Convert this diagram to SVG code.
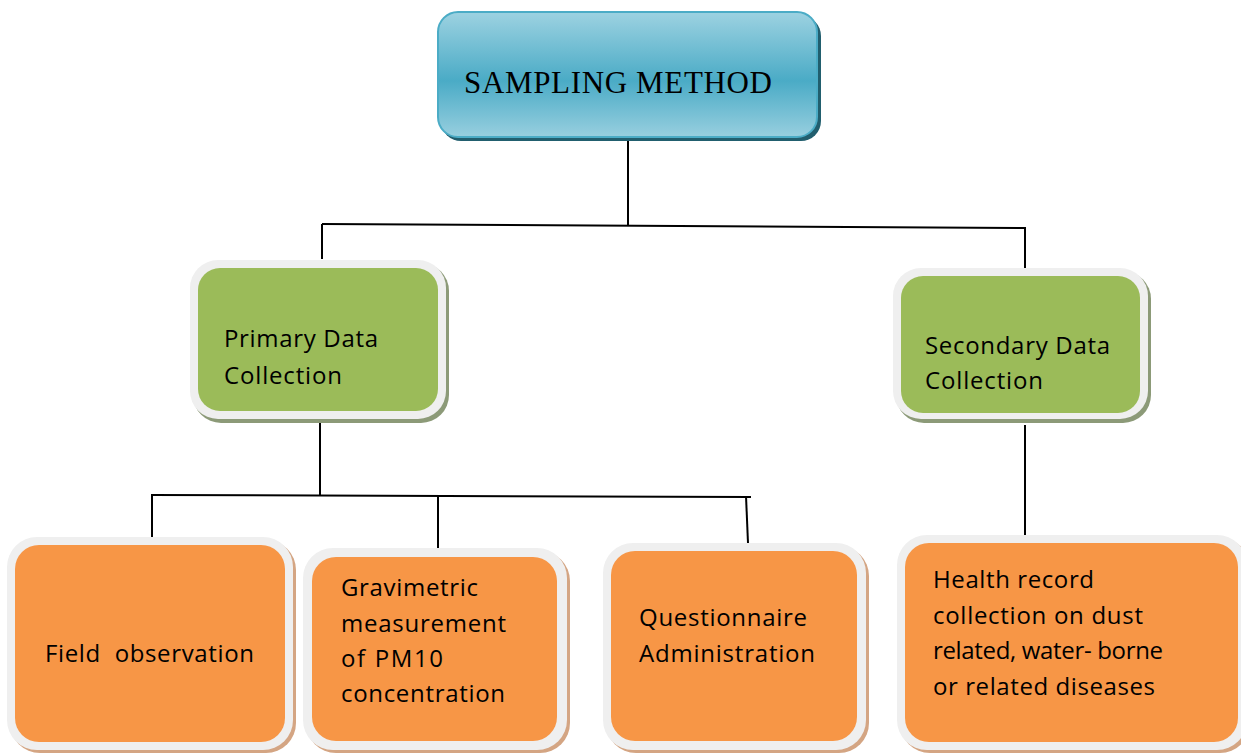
<svg xmlns="http://www.w3.org/2000/svg" width="1241" height="753" viewBox="0 0 1241 753">
<defs>
<linearGradient id="blueGrad" x1="0" y1="0" x2="0" y2="1">
<stop offset="0" stop-color="#9DD2E1"/>
<stop offset="0.55" stop-color="#4AABC6"/>
<stop offset="1" stop-color="#98CFDF"/>
</linearGradient>
</defs>
<style>
.frame{fill:#EFEFEF;}
.gshadow{fill:#8C9A78;}
.oshadow{fill:#D4A583;}
.green{fill:#9BBB59;}
.orange{fill:#F79646;}
.lbl{font-family:"Open Sans","Liberation Sans",sans-serif;font-size:24px;fill:#000;}
.title{font-family:"Liberation Serif",serif;font-size:31px;fill:#000;}
.conn{stroke:#000;stroke-width:2;fill:none;}
</style>
<rect width="1241" height="753" fill="#FFFFFF"/>
<g id="connectors">
<line class="conn" x1="628" y1="137" x2="628" y2="226"/>
<line class="conn" x1="322" y1="224" x2="1026" y2="228"/>
<line class="conn" x1="322" y1="224" x2="322" y2="259"/>
<line class="conn" x1="1025" y1="228" x2="1025" y2="268"/>
<line class="conn" x1="320" y1="418" x2="320" y2="495"/>
<line class="conn" x1="151" y1="495" x2="751" y2="497"/>
<line class="conn" x1="152" y1="495" x2="152" y2="541"/>
<line class="conn" x1="438" y1="495" x2="438" y2="549"/>
<line class="conn" x1="746" y1="496" x2="748" y2="543"/>
<line class="conn" x1="1025" y1="425" x2="1025" y2="541"/>
</g>
<g id="sampling-method">
<rect x="441" y="16" width="380" height="125" rx="20" fill="#215E6E"/>
<rect x="438" y="12" width="379" height="125" rx="20" fill="url(#blueGrad)" stroke="#4BACC6" stroke-width="2"/>
<text class="title" x="464" y="93" textLength="308">SAMPLING METHOD</text>
</g>
<g id="primary">
<rect x="193" y="263" width="256" height="160" rx="28" class="gshadow"/>
<rect x="190" y="260" width="256" height="159" rx="28" class="frame"/>
<rect x="198" y="268" width="240" height="143" rx="22" class="green"/>
<text class="lbl" x="224" y="347" textLength="154">Primary Data</text>
<text class="lbl" x="224" y="384" textLength="118">Collection</text>
</g>
<g id="secondary">
<rect x="896" y="271" width="255" height="152" rx="28" class="gshadow"/>
<rect x="893" y="268" width="255" height="151" rx="28" class="frame"/>
<rect x="901" y="276" width="239" height="137" rx="22" class="green"/>
<text class="lbl" x="925" y="354" textLength="185">Secondary Data</text>
<text class="lbl" x="925" y="389" textLength="118">Collection</text>
</g>
<g id="field-observation">
<rect x="10" y="540" width="286" height="213" rx="30" class="oshadow"/>
<rect x="7" y="537" width="286" height="213" rx="30" class="frame"/>
<rect x="15" y="545" width="270" height="197" rx="24" class="orange"/>
<text class="lbl" x="45" y="662" textLength="209" xml:space="preserve">Field  observation</text>
</g>
<g id="gravimetric">
<rect x="306" y="551" width="264" height="202" rx="30" class="oshadow"/>
<rect x="303" y="548" width="264" height="202" rx="30" class="frame"/>
<rect x="312" y="557" width="245" height="184" rx="24" class="orange"/>
<text class="lbl" x="341" y="596" textLength="137">Gravimetric</text>
<text class="lbl" x="341" y="632" textLength="165">measurement</text>
<text class="lbl" x="341" y="667" textLength="102">of PM10</text>
<text class="lbl" x="341" y="702" textLength="164">concentration</text>
</g>
<g id="questionnaire">
<rect x="606" y="546" width="263" height="207" rx="30" class="oshadow"/>
<rect x="603" y="543" width="263" height="207" rx="30" class="frame"/>
<rect x="611" y="551" width="246" height="190" rx="24" class="orange"/>
<text class="lbl" x="639" y="626" textLength="168">Questionnaire</text>
<text class="lbl" x="639" y="662" textLength="176">Administration</text>
</g>
<g id="health-record">
<rect x="900" y="538" width="350" height="215" rx="30" class="oshadow"/>
<rect x="897" y="535" width="350" height="215" rx="30" class="frame"/>
<rect x="905" y="543" width="333" height="199" rx="24" class="orange"/>
<text class="lbl" x="933" y="588" textLength="161">Health record</text>
<text class="lbl" x="933" y="624" textLength="210">collection on dust</text>
<text class="lbl" x="933" y="659" textLength="230">related, water- borne</text>
<text class="lbl" x="933" y="695" textLength="222">or related diseases</text>
</g>
</svg>
